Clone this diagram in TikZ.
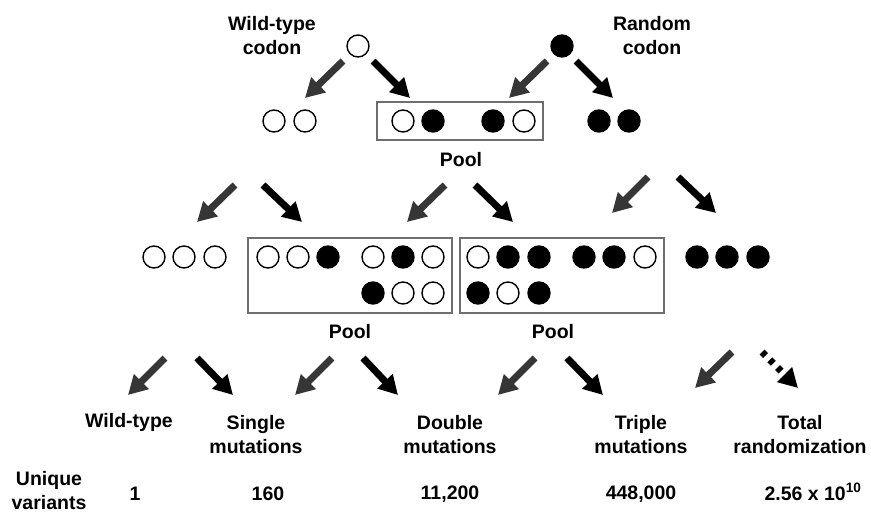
\documentclass[tikz,border=0pt]{standalone}
\usepackage{fontspec}
\setmainfont{Liberation Sans}
\usetikzlibrary{arrows.meta}
\definecolor{arrgray}{HTML}{363636}
\definecolor{boxgray}{HTML}{6E6E6E}
\tikzset{
  wc/.style={circle, draw=black, fill=white, line width=1.4pt, minimum size=22pt, inner sep=0pt},
  mc/.style={circle, draw=black, fill=black, line width=1.4pt, minimum size=22pt, inner sep=0pt},
  lbl/.style={font=\bfseries\fontsize{19.5}{24}\selectfont, align=center, inner sep=0pt},
  poolbox/.style={draw=boxgray, line width=1.5pt, inner sep=0pt},
  garr/.style={draw=arrgray, line width=7pt, -{Triangle[width=20pt,length=19pt,fill=arrgray]}},
  barr/.style={draw=black, line width=7pt, -{Triangle[width=20pt,length=19pt,fill=black]}},
  darr/.style={draw=black, line width=7pt, dash pattern=on 5pt off 6pt, -{Triangle[width=20pt,length=19pt,fill=black]}},
}
\begin{document}
\begin{tikzpicture}[x=1pt,y=-1pt]
\useasboundingbox (0,0) rectangle (871,514);
\fill[white] (0,0) rectangle (871,514);

% ---- top level ----
\node[lbl] (wtlab) at (272,36) {Wild-type\\codon};
\node[lbl] (rdlab) at (652,36) {Random\\codon};
\node[wc] (wt) at (358,46) {};
\node[mc] (rd) at (562,46) {};

% row 2
\node[poolbox, minimum width=166pt, minimum height=38pt] (box0) at (460,121) {};
\node[wc] (r2a) at (274,121) {};
\node[wc] (r2b) at (305,121) {};
\node[wc] (r2c) at (403,121) {};
\node[mc] (r2d) at (433,121) {};
\node[mc] (r2e) at (493,121) {};
\node[wc] (r2f) at (524,121) {};
\node[mc] (r2g) at (599,121) {};
\node[mc] (r2h) at (629,121) {};
\node[lbl] (pool0) at (461,160) {Pool};

% row 3
\node[poolbox, minimum width=204pt, minimum height=75pt] (box1) at (350,275.5) {};
\node[poolbox, minimum width=204pt, minimum height=75pt] (box2) at (562,275.5) {};
\node[wc] (r3a) at (154,257) {};
\node[wc] (r3b) at (184,257) {};
\node[wc] (r3c) at (215,257) {};
\node[wc] (b1a) at (268,257) {};
\node[wc] (b1b) at (298,257) {};
\node[mc] (b1c) at (328,257) {};
\node[wc] (b1d) at (373,257) {};
\node[mc] (b1e) at (403,257) {};
\node[wc] (b1f) at (433,257) {};
\node[mc] (b1g) at (373,293) {};
\node[wc] (b1h) at (403,293) {};
\node[wc] (b1i) at (433,293) {};
\node[wc] (b2a) at (478,257) {};
\node[mc] (b2b) at (508,257) {};
\node[mc] (b2c) at (539,257) {};
\node[mc] (b2d) at (584,257) {};
\node[mc] (b2e) at (614,257) {};
\node[wc] (b2f) at (645,257) {};
\node[mc] (b2g) at (478,293) {};
\node[wc] (b2h) at (508,293) {};
\node[mc] (b2i) at (539,293) {};
\node[mc] (r3d) at (697,257) {};
\node[mc] (r3e) at (727,257) {};
\node[mc] (r3f) at (758,257) {};
\node[lbl] (pool1) at (350,332) {Pool};
\node[lbl] (pool2) at (553,332) {Pool};

% bottom labels
\node[lbl] (wtype) at (129,422) {Wild-type};
\node[lbl] (single) at (256,434.5) {Single\\mutations};
\node[lbl] (double) at (450,434.5) {Double\\mutations};
\node[lbl] (triple) at (641,434.5) {Triple\\mutations};
\node[lbl] (total) at (800,434.5) {Total\\randomization};

\node[lbl] (uniq) at (49,491) {Unique\\variants};
\node[lbl] (n1) at (135,494) {1};
\node[lbl] (n2) at (268,494) {160};
\node[lbl] (n3) at (450,494) {11,200};
\node[lbl] (n4) at (641,494) {448,000};
\node[lbl] (n5) at (813,492) {2.56 x 10\textsuperscript{10}};

% ---- arrow coordinates ----
\coordinate (a1s) at (343,61);  \coordinate (a1e) at (305,98);
\coordinate (a2s) at (373,61);  \coordinate (a2e) at (410,98);
\coordinate (a3s) at (547,61);  \coordinate (a3e) at (509,98);
\coordinate (a4s) at (576,61);  \coordinate (a4e) at (613,98);

\coordinate (b1s) at (235,185); \coordinate (b1e) at (197,222);
\coordinate (b2s) at (263,185); \coordinate (b2e) at (302,222);
\coordinate (b3s) at (445,185); \coordinate (b3e) at (407,222);
\coordinate (b4s) at (475,185); \coordinate (b4e) at (513,222);
\coordinate (b5s) at (648,177); \coordinate (b5e) at (612,213);
\coordinate (b6s) at (678,177); \coordinate (b6e) at (716,213);

\coordinate (c1s) at (165,358); \coordinate (c1e) at (128,395);
\coordinate (c2s) at (197,358); \coordinate (c2e) at (233,395);
\coordinate (c3s) at (332,358); \coordinate (c3e) at (295,395);
\coordinate (c4s) at (363,358); \coordinate (c4e) at (398,395);
\coordinate (c5s) at (535,358); \coordinate (c5e) at (498,395);
\coordinate (c6s) at (567,358); \coordinate (c6e) at (603,395);
\coordinate (c7s) at (732,352); \coordinate (c7e) at (695,388);
\coordinate (c8s) at (762,352); \coordinate (c8e) at (798,388);

\draw[garr] (a1s) -- (a1e);
\draw[barr] (a2s) -- (a2e);
\draw[garr] (a3s) -- (a3e);
\draw[barr] (a4s) -- (a4e);

\draw[garr] (b1s) -- (b1e);
\draw[barr] (b2s) -- (b2e);
\draw[garr] (b3s) -- (b3e);
\draw[barr] (b4s) -- (b4e);
\draw[garr] (b5s) -- (b5e);
\draw[barr] (b6s) -- (b6e);

\draw[garr] (c1s) -- (c1e);
\draw[barr] (c2s) -- (c2e);
\draw[garr] (c3s) -- (c3e);
\draw[barr] (c4s) -- (c4e);
\draw[garr] (c5s) -- (c5e);
\draw[barr] (c6s) -- (c6e);
\draw[garr] (c7s) -- (c7e);
\draw[darr] (c8s) -- (c8e);
\end{tikzpicture}
\end{document}
